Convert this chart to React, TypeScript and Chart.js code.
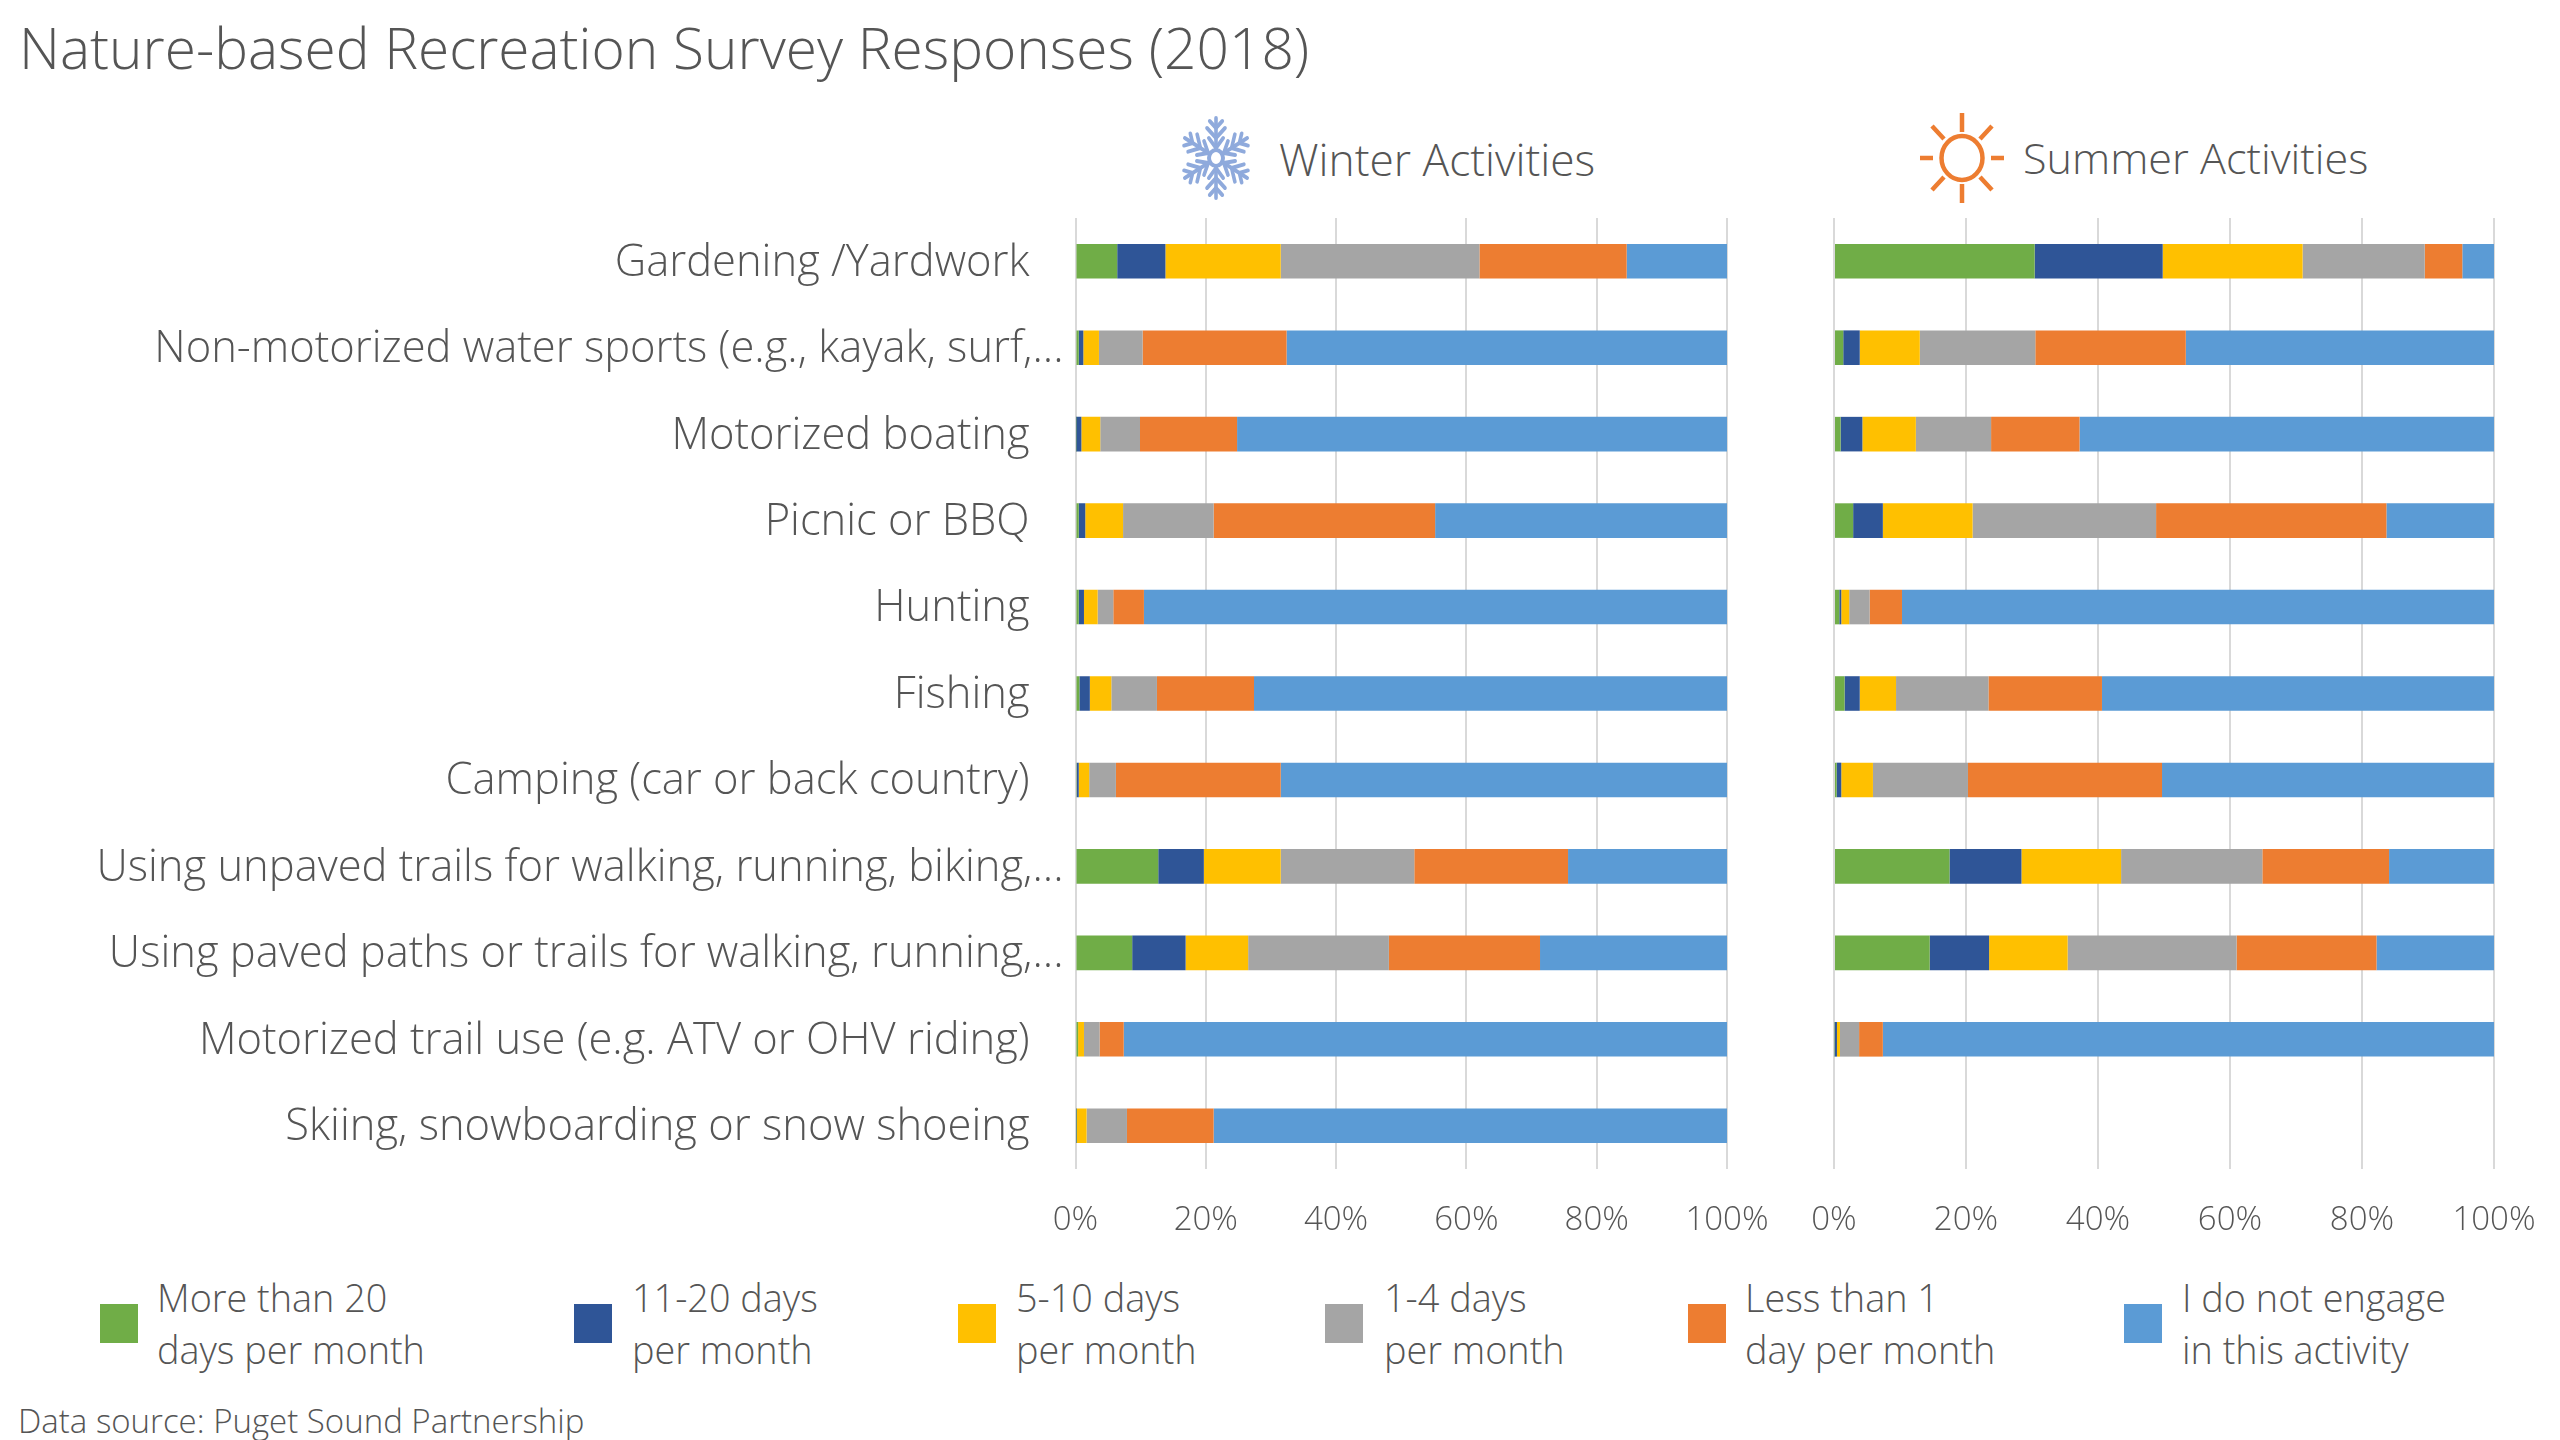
import React, { useEffect, useRef } from "react";
import { Chart, registerables } from "chart.js";

Chart.register(...registerables);

const activities = [
  "Gardening /Yardwork",
  "Non-motorized water sports (e.g., kayak, surf,...",
  "Motorized boating",
  "Picnic or BBQ",
  "Hunting",
  "Fishing",
  "Camping (car or back country)",
  "Using unpaved trails for walking, running, biking,...",
  "Using paved paths or trails for walking, running,...",
  "Motorized trail use (e.g. ATV or OHV riding)",
  "Skiing, snowboarding or snow shoeing",
];

const seriesNames = [
  "More than 20 days per month",
  "11-20 days per month",
  "5-10 days per month",
  "1-4 days per month",
  "Less than 1 day per month",
  "I do not engage in this activity",
];
const seriesColors = ["#70AD47", "#2F5597", "#FFC000", "#A5A5A5", "#ED7D31", "#5B9BD5"];

const winterOver20 = [6.4, 0.5, 0.1, 0.5, 0.5, 0.6, 0.2, 12.7, 8.7, 0.4, 0.1];
const winter11to20 = [7.4, 0.7, 0.8, 1.0, 0.8, 1.6, 0.3, 7.0, 8.2, 0.0, 0.1];
const winter5to10 = [17.7, 2.4, 2.9, 5.8, 2.1, 3.3, 1.6, 11.8, 9.6, 0.9, 1.5];
const winter1to4 = [30.5, 6.7, 6.1, 13.9, 2.4, 7.0, 4.1, 20.5, 21.6, 2.4, 6.2];
const winterUnder1 = [22.6, 22.1, 14.9, 34.0, 4.7, 14.9, 25.3, 23.6, 23.2, 3.7, 13.3];
const winterNever = [15.4, 67.6, 75.2, 44.8, 89.5, 72.6, 68.5, 24.4, 28.7, 92.6, 78.8];

const summerOver20 = [30.4, 1.4, 1.0, 2.9, 0.8, 1.6, 0.4, 17.5, 14.5, 0.1, 0];
const summer11to20 = [19.4, 2.5, 3.3, 4.5, 0.3, 2.3, 0.7, 10.9, 9.0, 0.35, 0];
const summer5to10 = [21.2, 9.1, 8.1, 13.6, 1.2, 5.5, 4.8, 15.1, 11.9, 0.45, 0];
const summer1to4 = [18.5, 17.5, 11.4, 27.8, 3.1, 14.0, 14.4, 21.4, 25.6, 2.9, 0];
const summerUnder1 = [5.7, 22.8, 13.4, 34.9, 4.9, 17.2, 29.4, 19.2, 21.2, 3.6, 0];
const summerNever = [4.8, 46.7, 62.8, 16.3, 89.7, 59.4, 50.3, 15.9, 17.8, 92.6, 0];

const winterSeries = [winterOver20, winter11to20, winter5to10, winter1to4, winterUnder1, winterNever];
const summerSeries = [summerOver20, summer11to20, summer5to10, summer1to4, summerUnder1, summerNever];

const legendLines = [
  ["More than 20", "days per month"],
  ["11-20 days", "per month"],
  ["5-10 days", "per month"],
  ["1-4 days", "per month"],
  ["Less than 1", "day per month"],
  ["I do not engage", "in this activity"],
];
const legendSwatchX = [100, 574, 958, 1325, 1688, 2124];
const legendTextX = [157, 632, 1016, 1384, 1745, 2182];

const FONT = '"Open Sans", sans-serif';
const TEXT = "#555555";

function shiftLabels(scale: any, dy: number) {
  if (scale.__shifted) return;
  scale.__shifted = true;
  const draw = scale.drawLabels;
  scale.drawLabels = function (area: any) {
    this.ctx.save();
    this.ctx.translate(0, dy);
    draw.call(this, area);
    this.ctx.restore();
  };
}

function makeOptions(withLabels: boolean, padL: number): any {
  return {
    indexAxis: "y",
    animation: false,
    responsive: false,
    maintainAspectRatio: false,
    layout: { padding: { left: padL, right: 46, top: 0, bottom: 0 } },
    plugins: { legend: { display: false }, title: { display: false }, tooltip: { enabled: false } },
    scales: {
      x: {
        stacked: true,
        min: 0,
        max: 100,
        border: { display: false },
        grid: { display: true, color: "#D9D9D9", lineWidth: 2, drawTicks: false },
        afterFit: (s: any) => {
          s.height = 80;
          s.paddingLeft = 0;
          s.paddingRight = 0;
        },
        ticks: {
          stepSize: 20,
          autoSkip: false,
          maxRotation: 0,
          padding: 32,
          color: TEXT,
          font: { family: FONT, size: 33, weight: 300 },
          callback: (v: any) => v + "%",
        },
      },
      y: {
        stacked: true,
        display: withLabels,
        border: { display: false },
        grid: { display: false, drawTicks: false },
        afterFit: (s: any) => {
          if (withLabels) s.width = 1075.5;
          s.paddingTop = 0;
          s.paddingBottom = 0;
          shiftLabels(s, 2);
        },
        ticks: {
          autoSkip: false,
          padding: 12,
          color: TEXT,
          font: { family: FONT, size: 43.5, weight: 300 },
          callback: (_v: any, i: number) =>
            activities[i] + (activities[i].endsWith("...") ? "" : "\u00A0\u00A0\u00A0"),
        },
      },
    },
  };
}

function makeData(series: number[][]) {
  return {
    labels: activities,
    datasets: series.map((values, i) => ({
      label: seriesNames[i],
      data: values,
      backgroundColor: seriesColors[i],
      borderWidth: 0,
      barPercentage: 0.4,
      categoryPercentage: 1,
    })),
  };
}

const Label = ({ x, cy, size, children }: any) => (
  <div
    style={{
      position: "absolute",
      left: x,
      top: cy - size,
      height: size * 2,
      lineHeight: size * 2 + "px",
      fontFamily: FONT,
      fontWeight: 300,
      fontSize: size,
      color: TEXT,
      whiteSpace: "nowrap",
    }}
  >
    {children}
  </div>
);

const Snowflake = () => (
  <svg style={{ position: "absolute", left: 1171, top: 113 }} width="90" height="90" viewBox="-45 -45 90 90">
    <g stroke="#8FAADC" strokeWidth="4" fill="none" strokeLinecap="round">
      <ellipse cx="0" cy="0" rx="7" ry="8" />
      {[0, 60, 120, 180, 240, 300].map((a) => (
        <g key={a} transform={`scale(0.9 1) rotate(${a})`}>
          <path d="M0 -8 L0 -40" />
          <path d="M0 -20 L-10 -30 M0 -20 L10 -30" />
          <path d="M0 -30 L-7 -37 M0 -30 L7 -37" />
          <path d="M0 -10 L-8 -20 M0 -10 L8 -20" />
        </g>
      ))}
    </g>
  </svg>
);

const Sun = () => (
  <svg style={{ position: "absolute", left: 1912, top: 108 }} width="100" height="100" viewBox="-50 -50 100 100">
    <g stroke="#ED7D31" strokeWidth="4.5" fill="none">
      <ellipse cx="0" cy="0" rx="20.5" ry="22" />
      <path d="M0 -45 L0 -26 M0 45 L0 26 M-42 0 L-29 0 M42 0 L29 0" />
      <path d="M-30 -32 L-18 -19 M30 -32 L18 -19 M-30 32 L-18 19 M30 32 L18 19" strokeLinecap="butt" />
    </g>
  </svg>
);

export default function App() {
  const winterRef = useRef<HTMLCanvasElement>(null);
  const summerRef = useRef<HTMLCanvasElement>(null);

  useEffect(() => {
    const winter = new Chart(winterRef.current!, {
      type: "bar",
      data: makeData(winterSeries),
      options: makeOptions(true, 0),
    } as any);
    const summer = new Chart(summerRef.current!, {
      type: "bar",
      data: makeData(summerSeries),
      options: makeOptions(false, 60),
    } as any);
    return () => {
      winter.destroy();
      summer.destroy();
    };
  }, []);

  return (
    <div style={{ position: "absolute", left: 0, top: 0, width: 2560, height: 1440, overflow: "hidden", background: "#fff" }}>
      <Label x={19} cy={48} size={56.8}>Nature-based Recreation Survey Responses (2018)</Label>
      <Snowflake />
      <Label x={1279} cy={159} size={44.3}>Winter Activities</Label>
      <Sun />
      <Label x={2023} cy={158} size={43.2}>Summer Activities</Label>

      <canvas ref={winterRef} width={1773} height={1031} style={{ position: "absolute", left: 0, top: 218, width: 1773, height: 1031 }} />
      <canvas ref={summerRef} width={766} height={1031} style={{ position: "absolute", left: 1773.5, top: 218, width: 766, height: 1031 }} />

      {seriesNames.map((name, i) => (
        <React.Fragment key={name}>
          <div style={{ position: "absolute", left: legendSwatchX[i], top: 1304, width: 38, height: 39, background: seriesColors[i] }} />
          <Label x={legendTextX[i]} cy={1298} size={37.8}>{legendLines[i][0]}</Label>
          <Label x={legendTextX[i]} cy={1350} size={37.8}>{legendLines[i][1]}</Label>
        </React.Fragment>
      ))}
      <Label x={18} cy={1421} size={33}>Data source: Puget Sound Partnership</Label>
    </div>
  );
}
